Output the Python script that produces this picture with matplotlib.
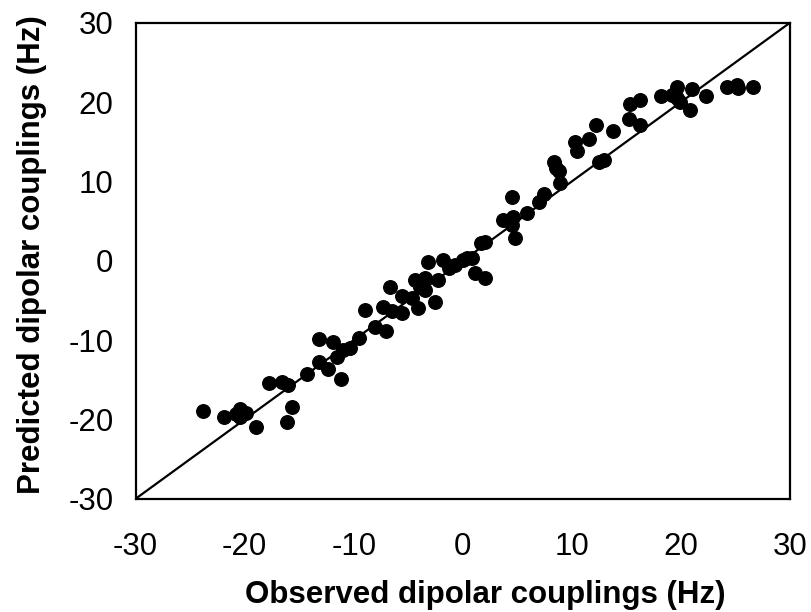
import matplotlib
matplotlib.use("Agg")
import matplotlib.pyplot as plt

# observed vs predicted dipolar couplings (Hz)
observed = [-23.8, -21.9, -20.4, -20.4, -19.9, -20.8, -19.0, -17.8, -16.6, -16.0,
            -16.1, -15.7, -14.3, -13.2, -13.2, -12.4, -11.9, -11.5, -11.2, -11.0,
            -10.35, -9.5, -9.0, -8.05, -7.0, -7.3, -6.7, -6.5, -5.6, -5.6,
            -4.7, -4.4, -4.1, -3.9, -3.5, -3.5, -3.16, -2.55, -2.25, -1.8,
            -1.3, -0.7, 0.05, 0.36, 0.8, 1.1, 2.0, 1.7, 2.0, 3.7,
            4.6, 4.5, 4.49, 4.8, 5.86, 7.0, 7.4, 8.4, 8.5, 8.8,
            8.9, 10.3, 10.5, 11.6, 12.2, 12.5, 12.9, 13.8, 15.2, 15.34,
            16.26, 16.26, 18.2, 19.2, 19.6, 19.9, 19.6, 20.8, 21.0, 22.3,
            24.2, 25.1, 25.2, 26.6]
predicted = [-19.0, -19.7, -18.7, -19.7, -19.2, -19.3, -20.9, -15.4, -15.3, -15.7,
             -20.3, -18.4, -14.3, -9.9, -12.8, -13.6, -10.2, -12.1, -14.9, -11.2,
             -11.0, -9.7, -6.2, -8.3, -8.9, -5.8, -3.3, -6.4, -6.6, -4.5,
             -4.7, -2.4, -6.0, -3.3, -2.2, -3.7, -0.1, -5.15, -2.4, 0.1,
             -0.9, -0.5, 0.1, 0.3, 0.3, -1.6, -2.2, 2.2, 2.4, 5.1,
             5.55, 4.5, 8.07, 2.8, 6.0, 7.4, 8.4, 12.5, 11.7, 11.3,
             9.8, 14.9, 13.8, 15.4, 17.1, 12.5, 12.7, 16.3, 17.9, 19.8,
             20.25, 17.1, 20.7, 20.9, 21.9, 20.0, 20.5, 19.0, 21.7, 20.8,
             21.9, 22.1, 21.8, 21.9]

ticks = [-30, -20, -10, 0, 10, 20, 30]

plt.rcParams['font.family'] = ['Liberation Sans', 'DejaVu Sans']
plt.rcParams['axes.unicode_minus'] = False

fig = plt.figure(figsize=(8.12, 6.12), dpi=100)
ax = fig.add_axes([0.167, 0.185, 0.806, 0.778])

ax.plot([-30, 30], [-30, 30], color='black', linewidth=1.6)
ax.scatter(observed, predicted, s=95, color='black', zorder=3)

ax.set_xlim(-30, 30)
ax.set_ylim(-30, 30)
ax.set_xticks(ticks)
ax.set_yticks(ticks)
ax.tick_params(axis='x', length=0, pad=24, labelsize=22.5)
ax.tick_params(axis='y', length=0, pad=16, labelsize=22.5)
for s in ax.spines.values():
    s.set_linewidth(1.6)

ax.set_xlabel('Observed dipolar couplings (Hz)', fontsize=22.5, fontweight='bold')
ax.set_ylabel('Predicted dipolar couplings (Hz)', fontsize=22.5, fontweight='bold')
ax.xaxis.set_label_coords(0.534, -0.170)
ax.yaxis.set_label_coords(-0.136, 0.513)

fig.savefig('out.png', dpi=100)
